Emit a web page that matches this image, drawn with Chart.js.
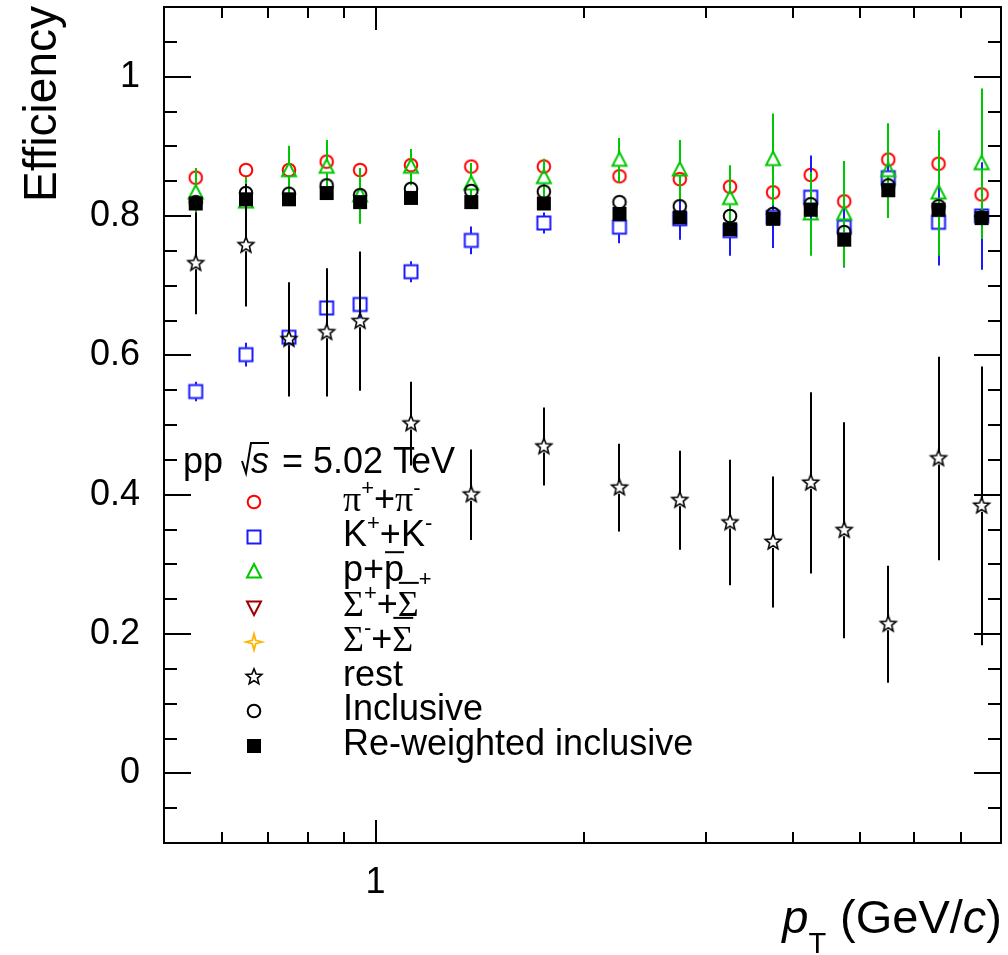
<!DOCTYPE html>
<html>
<head>
<meta charset="utf-8">
<script src="https://cdn.jsdelivr.net/npm/chart.js@4.4.0/dist/chart.umd.min.js"></script>
<style>
  html, body { margin: 0; padding: 0; background: #fff; }
  canvas { display: block; }
</style>
</head>
<body>
<canvas id="effChart" width="1008" height="955"></canvas>
<script>
// pT bin centres (GeV/c)
const ptBins = [0.55, 0.65, 0.75, 0.85, 0.95, 1.125, 1.375, 1.75, 2.25, 2.75, 3.25, 3.75, 4.25, 4.75, 5.5, 6.5, 7.5];

// efficiencies
const pionEff = [0.855, 0.866, 0.866, 0.878, 0.866, 0.873, 0.871, 0.871, 0.857, 0.853, 0.842, 0.834, 0.859, 0.821, 0.881, 0.875, 0.831];
const pionErr = [0.006, 0.006, 0.006, 0.006, 0.006, 0.006, 0.006, 0.006, 0.007, 0.007, 0.008, 0.008, 0.009, 0.009, 0.009, 0.01, 0.01];
const kaonEff = [0.548, 0.601, 0.626, 0.668, 0.673, 0.72, 0.765, 0.79, 0.784, 0.796, 0.779, 0.798, 0.827, 0.784, 0.855, 0.791, 0.8];
const kaonErr = [0.014, 0.017, 0.012, 0.02, 0.02, 0.015, 0.02, 0.015, 0.023, 0.03, 0.036, 0.044, 0.06, 0.058, 0.05, 0.062, 0.077];
const protonEff = [0.833, 0.82, 0.865, 0.87, 0.829, 0.87, 0.846, 0.855, 0.88, 0.866, 0.825, 0.881, 0.803, 0.803, 0.865, 0.833, 0.875];
const protonErr = [0.036, 0.036, 0.036, 0.039, 0.04, 0.026, 0.03, 0.027, 0.032, 0.043, 0.048, 0.066, 0.06, 0.076, 0.068, 0.09, 0.108];
const restEff = [0.732, 0.758, 0.623, 0.633, 0.649, 0.502, 0.40, 0.469, 0.41, 0.392, 0.36, 0.332, 0.417, 0.349, 0.214, 0.452, 0.384];
const restErr = [0.073, 0.088, 0.082, 0.092, 0.10, 0.06, 0.065, 0.056, 0.063, 0.071, 0.09, 0.094, 0.13, 0.155, 0.084, 0.146, 0.2];
const inclEff = [0.82, 0.833, 0.832, 0.844, 0.83, 0.839, 0.836, 0.835, 0.82, 0.814, 0.8, 0.803, 0.817, 0.777, 0.844, 0.814, 0.798];
const inclErr = [0.004, 0.004, 0.004, 0.004, 0.004, 0.004, 0.004, 0.004, 0.005, 0.005, 0.006, 0.006, 0.007, 0.007, 0.007, 0.008, 0.008];
const reweightEff = [0.818, 0.824, 0.824, 0.833, 0.82, 0.826, 0.82, 0.818, 0.803, 0.798, 0.781, 0.796, 0.809, 0.766, 0.837, 0.809, 0.797];
const reweightErr = [0.004, 0.004, 0.004, 0.004, 0.004, 0.004, 0.004, 0.004, 0.005, 0.005, 0.006, 0.006, 0.007, 0.007, 0.007, 0.008, 0.008];

// axes
const xRange = [0.495, 8];
const yRange = [-0.1, 1.1];
const xMajorTicks = [1];
const xMajorLabels = ['1'];
const xMinorTicks = [0.6, 0.7, 0.8, 0.9, 2, 3, 4, 5, 6, 7];
const yMajorTicks = [0, 0.2, 0.4, 0.6, 0.8, 1];
const yMajorLabels = ['0', '0.2', '0.4', '0.6', '0.8', '1'];
const yMinorStep = 0.05;

const SANS = '"Liberation Sans", Arial, Helvetica, sans-serif';
const SERIF = '"Liberation Serif", "Times New Roman", serif';
const RED = '#ff0000', BLUE = '#1a1aff', GREEN = '#00c800', DARKRED = '#a00000', ORANGE = '#ffb400', BLACK = '#000000';
const TEXT_SIZE = 36;

// ROOT-like marker sprites
function makeMarker(kind, color) {
  const c = document.createElement('canvas');
  c.width = 26; c.height = 26;
  const g = c.getContext('2d');
  g.translate(13, 13);
  g.strokeStyle = color; g.fillStyle = color; g.lineWidth = 2;
  g.beginPath();
  if (kind === 'circle') {
    g.arc(0, 0, 6.3, 0, Math.PI * 2); g.stroke();
  } else if (kind === 'square') {
    g.rect(-6.5, -6.5, 13, 13); g.stroke();
  } else if (kind === 'fsquare') {
    g.rect(-7, -7, 14, 14); g.fill();
  } else if (kind === 'triangle') {
    g.moveTo(0, -8); g.lineTo(7, 5.5); g.lineTo(-7, 5.5); g.closePath(); g.stroke();
  } else if (kind === 'itriangle') {
    g.moveTo(0, 8); g.lineTo(7, -5.5); g.lineTo(-7, -5.5); g.closePath(); g.stroke();
  } else if (kind === 'star5') {
    g.lineWidth = 1.6;
    for (let i = 0; i < 10; i++) {
      const r = i % 2 ? 3.6 : 8.2;
      const a = -Math.PI / 2 + i * Math.PI / 5;
      g.lineTo(r * Math.cos(a), r * Math.sin(a));
    }
    g.closePath(); g.stroke();
  } else if (kind === 'star4') {
    g.lineWidth = 1.8;
    for (let i = 0; i < 8; i++) {
      const r = i % 2 ? 2.4 : 8;
      const a = -Math.PI / 2 + i * Math.PI / 4;
      g.lineTo(r * Math.cos(a), r * Math.sin(a));
    }
    g.closePath(); g.stroke();
  }
  return c;
}

const series = [
  { y: pionEff, err: pionErr, kind: 'circle', color: RED, gap: 7 },
  { y: kaonEff, err: kaonErr, kind: 'square', color: BLUE, gap: 7 },
  { y: protonEff, err: protonErr, kind: 'triangle', color: GREEN, gap: 6 },
  { y: restEff, err: restErr, kind: 'star5', color: BLACK, gap: 6 },
  { y: inclEff, err: inclErr, kind: 'circle', color: BLACK, gap: 7 },
  { y: reweightEff, err: reweightErr, kind: 'fsquare', color: BLACK, gap: 7 }
];

const datasets = series.map((s, i) => ({
  data: ptBins.map((x, j) => ({ x: x, y: s.y[j] })),
  err: s.err,
  gap: s.gap,
  errColor: s.color,
  pointStyle: makeMarker(s.kind, s.color),
  pointRadius: 6,
  showLine: false,
  order: series.length - i
}));

// rich text helper (superscripts, subscripts, overbars)
function drawRich(ctx, x, base, parts, size, measureOnly) {
  const x0 = x;
  for (const p of parts) {
    const small = p.sup || p.sub;
    const fs = small ? Math.round(size * 0.62) : size;
    ctx.font = (p.it ? 'italic ' : '') + fs + 'px ' + (p.greek ? SERIF : SANS);
    let dy = 0;
    if (p.sup === 1) dy = -size * 0.45;
    if (p.sup === 2) dy = -size * 0.82;
    if (p.sub) dy = size * 0.42;
    const w = ctx.measureText(p.t).width;
    if (!measureOnly) {
      ctx.fillText(p.t, x, base + dy);
      if (p.bar) {
        ctx.beginPath();
        ctx.lineWidth = 2;
        ctx.moveTo(x + 1, base - size * p.bar);
        ctx.lineTo(x + w, base - size * p.bar);
        ctx.stroke();
      }
    }
    x += w + (p.gap || 0);
  }
  return x - x0;
}

const legendRows = [
  { kind: 'circle', color: RED, parts: [{ t: 'π', greek: 1 }, { t: '+', sup: 1 }, { t: '+' }, { t: 'π', greek: 1 }, { t: '-', sup: 1 }] },
  { kind: 'square', color: BLUE, parts: [{ t: 'K' }, { t: '+', sup: 1 }, { t: '+K' }, { t: '-', sup: 1 }] },
  { kind: 'triangle', color: GREEN, parts: [{ t: 'p+' }, { t: 'p', bar: 0.8 }] },
  { kind: 'itriangle', color: DARKRED, parts: [{ t: 'Σ', greek: 1 }, { t: '+', sup: 1 }, { t: '+' }, { t: 'Σ', greek: 1, bar: 0.92 }, { t: '+', sup: 2 }] },
  { kind: 'star4', color: ORANGE, parts: [{ t: 'Σ', greek: 1 }, { t: '-', sup: 1 }, { t: '+' }, { t: 'Σ', greek: 1, bar: 0.92 }] },
  { kind: 'star5', color: BLACK, parts: [{ t: 'rest' }] },
  { kind: 'circle', color: BLACK, parts: [{ t: 'Inclusive' }] },
  { kind: 'fsquare', color: BLACK, parts: [{ t: 'Re-weighted inclusive' }] }
];

const errorBars = {
  id: 'errorBars',
  beforeDatasetDraw(chart, args) {
    const ds = chart.data.datasets[args.index];
    const ys = chart.scales.y;
    const ctx = chart.ctx;
    const a = chart.chartArea;
    ctx.save();
    ctx.beginPath();
    ctx.rect(a.left, a.top, a.right - a.left, a.bottom - a.top);
    ctx.clip();
    ctx.strokeStyle = ds.errColor;
    ctx.lineWidth = 2;
    args.meta.data.forEach((pt, j) => {
      const v = ds.data[j].y, e = ds.err[j];
      const top = ys.getPixelForValue(v + e), bot = ys.getPixelForValue(v - e);
      const x = Math.round(pt.x);
      ctx.beginPath();
      if (top < pt.y - ds.gap) { ctx.moveTo(x, top); ctx.lineTo(x, pt.y - ds.gap); }
      if (bot > pt.y + ds.gap) { ctx.moveTo(x, pt.y + ds.gap); ctx.lineTo(x, bot); }
      ctx.stroke();
    });
    ctx.restore();
  }
};

const rootFrame = {
  id: 'rootFrame',
  afterDraw(chart) {
    const ctx = chart.ctx;
    const a = chart.chartArea;
    const xs = chart.scales.x, ys = chart.scales.y;
    ctx.save();
    ctx.strokeStyle = '#000';
    ctx.fillStyle = '#000';
    ctx.lineWidth = 2;
    ctx.strokeRect(a.left, a.top, a.right - a.left, a.bottom - a.top);
    ctx.beginPath();
    // y ticks, left and right
    for (let k = Math.round(yRange[0] / yMinorStep); k <= Math.round(yRange[1] / yMinorStep); k++) {
      const v = k * yMinorStep;
      const py = Math.round(ys.getPixelForValue(v));
      const major = yMajorTicks.some(m => Math.abs(m - v) < 1e-6);
      const len = major ? 27 : 13;
      ctx.moveTo(a.left, py); ctx.lineTo(a.left + len, py);
      ctx.moveTo(a.right, py); ctx.lineTo(a.right - len, py);
    }
    // x ticks, bottom and top
    xMinorTicks.concat(xMajorTicks).forEach(v => {
      const px = Math.round(xs.getPixelForValue(v));
      const len = xMajorTicks.includes(v) ? 23 : 11;
      ctx.moveTo(px, a.bottom); ctx.lineTo(px, a.bottom - len);
      ctx.moveTo(px, a.top); ctx.lineTo(px, a.top + len);
    });
    ctx.stroke();

    // axis titles
    ctx.textBaseline = 'alphabetic';
    ctx.save();
    ctx.translate(56, 6);
    ctx.rotate(-Math.PI / 2);
    ctx.textAlign = 'right';
    ctx.font = '46px ' + SANS;
    ctx.fillText('Efficiency', 0, 0);
    ctx.restore();

    ctx.textAlign = 'left';
    const xt = [{ t: 'p', it: 1 }, { t: 'T', sub: 1, gap: 14 }, { t: '(GeV/' }, { t: 'c', it: 1 }, { t: ')' }];
    const wTitle = drawRich(ctx, 0, 0, xt, 47, true);
    drawRich(ctx, 1002 - wTitle, 933, xt, 47, false);

    // header text
    ctx.font = TEXT_SIZE + 'px ' + SANS;
    ctx.fillText('pp', 183, 473);
    ctx.beginPath();
    ctx.lineWidth = 2;
    ctx.moveTo(242, 461); ctx.lineTo(246, 473); ctx.lineTo(251, 443); ctx.lineTo(269, 443);
    ctx.stroke();
    ctx.font = 'italic ' + TEXT_SIZE + 'px ' + SANS;
    ctx.fillText('s', 251, 473);
    ctx.font = TEXT_SIZE + 'px ' + SANS;
    ctx.fillText('= 5.02 TeV', 282, 473);

    // legend
    const rowY = [502, 537, 572, 607, 642, 677, 711, 746];
    legendRows.forEach((r, i) => {
      const img = makeMarker(r.kind, r.color);
      ctx.drawImage(img, 254 - 13, rowY[i] - 13);
      ctx.fillStyle = '#000'; ctx.strokeStyle = '#000';
      drawRich(ctx, 343, rowY[i] + 9, r.parts, TEXT_SIZE, false);
    });
    ctx.restore();
  }
};

new Chart(document.getElementById('effChart').getContext('2d'), {
  type: 'scatter',
  data: { datasets: datasets },
  options: {
    responsive: false,
    animation: false,
    events: [],
    layout: { padding: { top: 7, right: 5, left: 0, bottom: 0 } },
    plugins: { legend: { display: false }, tooltip: { enabled: false } },
    scales: {
      x: {
        type: 'logarithmic',
        min: xRange[0], max: xRange[1],
        grid: { display: false },
        border: { display: false },
        afterBuildTicks: s => { s.ticks = xMajorTicks.map(v => ({ value: v })); },
        afterFit: s => { s.height = 112; s.paddingLeft = 0; s.paddingRight = 0; },
        ticks: {
          autoSkip: false, maxRotation: 0, padding: 10, color: '#000',
          font: { family: SANS, size: 36 },
          callback: v => { const i = xMajorTicks.indexOf(v); return i >= 0 ? xMajorLabels[i] : ''; }
        }
      },
      y: {
        min: yRange[0], max: yRange[1],
        grid: { display: false },
        border: { display: false },
        afterBuildTicks: s => { s.ticks = yMajorTicks.map(v => ({ value: v })); },
        afterFit: s => { s.width = 164; s.paddingTop = 0; s.paddingBottom = 0; },
        ticks: {
          padding: 16, color: '#000',
          font: { family: SANS, size: 36 },
          callback: v => { const i = yMajorTicks.findIndex(m => Math.abs(m - v) < 1e-6); return i >= 0 ? yMajorLabels[i] : ''; }
        }
      }
    }
  },
  plugins: [errorBars, rootFrame]
});
</script>
</body>
</html>
